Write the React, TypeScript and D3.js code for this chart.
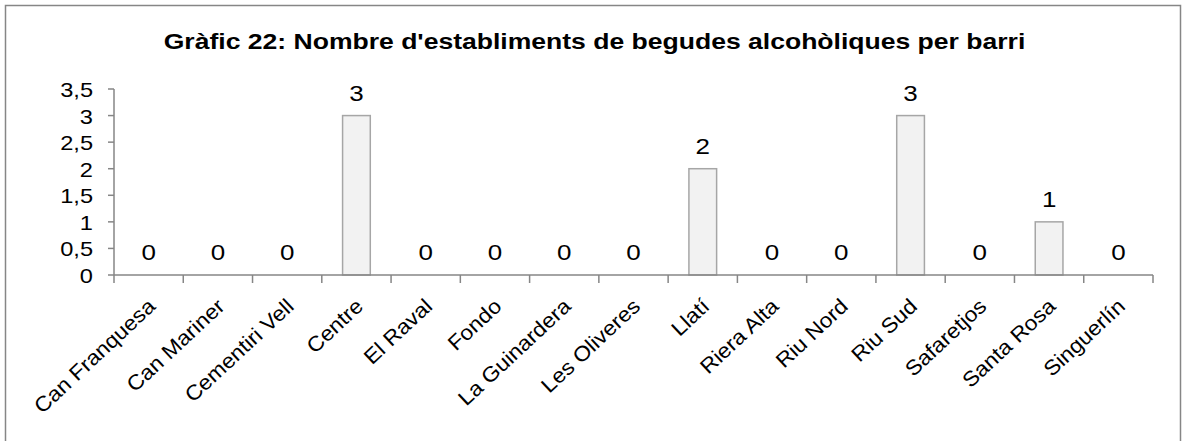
import React, { useRef, useEffect } from "react";
import * as d3 from "d3";

const barris = [
  "Can Franquesa", "Can Mariner", "Cementiri Vell", "Centre", "El Raval",
  "Fondo", "La Guinardera", "Les Oliveres", "Llatí", "Riera Alta",
  "Riu Nord", "Riu Sud", "Safaretjos", "Santa Rosa", "Singuerlín",
];
const establiments = [0, 0, 0, 3, 0, 0, 0, 0, 2, 0, 0, 3, 0, 1, 0];
const yTicks = [0, 0.5, 1, 1.5, 2, 2.5, 3, 3.5];
const titol = "Gràfic 22: Nombre d'establiments de begudes alcohòliques per barri";

function App() {
  const svgRef = useRef<SVGSVGElement>(null);

  useEffect(() => {
    const width = 1182, height = 441;
    const margin = { top: 89, right: 29, bottom: 166, left: 114 };
    const font = "Arial, 'Liberation Sans', sans-serif";
    const axisColor = "#868686";
    const sx = 1.18; // the original picture is a bit wider than tall

    const svg = d3.select(svgRef.current);
    svg.selectAll("*").remove();
    svg.attr("width", width).attr("height", height);

    svg.append("rect")
      .attr("x", 5.5).attr("y", 5.5)
      .attr("width", 1175).attr("height", 445)
      .attr("fill", "white")
      .attr("stroke", axisColor)
      .attr("stroke-width", 1.5);

    const x = d3.scaleBand()
      .domain(barris)
      .range([margin.left, width - margin.right]);

    const y = d3.scaleLinear()
      .domain([0, 3.5])
      .range([height - margin.bottom, margin.top]);

    svg.append("text")
      .attr("transform", `translate(594.5,49) scale(${sx},1)`)
      .attr("text-anchor", "middle")
      .attr("font-family", font)
      .attr("font-weight", "bold")
      .attr("font-size", 22.5)
      .text(titol);

    // bars
    const bw = x.bandwidth() * 0.4;
    svg.selectAll(".bar")
      .data(establiments.map((v, i) => ({ v, k: barris[i] })).filter(d => d.v > 0))
      .join("rect")
        .attr("class", "bar")
        .attr("x", d => x(d.k)! + (x.bandwidth() - bw) / 2)
        .attr("y", d => y(d.v))
        .attr("width", bw)
        .attr("height", d => y(0) - y(d.v))
        .attr("fill", "#f2f2f2")
        .attr("stroke", "#a6a6a6")
        .attr("stroke-width", 1.5);

    // value labels
    svg.selectAll(".lbl")
      .data(establiments.map((v, i) => ({ v, k: barris[i] })))
      .join("text")
        .attr("class", "lbl")
        .attr("transform", d => `translate(${x(d.k)! + x.bandwidth() / 2},${y(d.v) - 15}) scale(${sx},1)`)
        .attr("text-anchor", "middle")
        .attr("font-family", font)
        .attr("font-size", 22)
        .text(d => d.v);

    // y axis
    const gy = svg.append("g");
    gy.append("line")
      .attr("x1", margin.left).attr("x2", margin.left)
      .attr("y1", y(3.5)).attr("y2", y(0))
      .attr("stroke", axisColor).attr("stroke-width", 1.5);
    gy.selectAll(".yt")
      .data(yTicks)
      .join("line")
        .attr("x1", margin.left - 6).attr("x2", margin.left)
        .attr("y1", d => y(d)).attr("y2", d => y(d))
        .attr("stroke", axisColor).attr("stroke-width", 1.5);
    gy.selectAll(".yl")
      .data(yTicks)
      .join("text")
        .attr("transform", d => `translate(${margin.left - 21},${y(d) + 8}) scale(${sx},1)`)
        .attr("text-anchor", "end")
        .attr("font-family", font)
        .attr("font-size", 20)
        .text(d => String(d).replace(".", ","));

    // x axis
    const gx = svg.append("g");
    gx.append("line")
      .attr("x1", margin.left).attr("x2", width - margin.right)
      .attr("y1", y(0)).attr("y2", y(0))
      .attr("stroke", axisColor).attr("stroke-width", 1.5);
    const edges = barris.map(b => x(b)!).concat([width - margin.right]);
    gx.selectAll(".xt")
      .data(edges)
      .join("line")
        .attr("x1", d => d).attr("x2", d => d)
        .attr("y1", y(0)).attr("y2", y(0) + 8)
        .attr("stroke", axisColor).attr("stroke-width", 1.5);
    gx.selectAll(".xl")
      .data(barris)
      .join("text")
        .attr("text-anchor", "end")
        .attr("font-family", font)
        .attr("font-size", 21)
        .attr("transform", d => `translate(${x(d)! + x.bandwidth() / 2 + 8},${y(0) + 33}) rotate(-43) scale(1.08,1)`)
        .text(d => d);
  }, []);

  return (
    <div style={{ position: "absolute", left: 0, top: 0 }}>
      <svg ref={svgRef} style={{ display: "block" }}></svg>
    </div>
  );
}

export default App;
